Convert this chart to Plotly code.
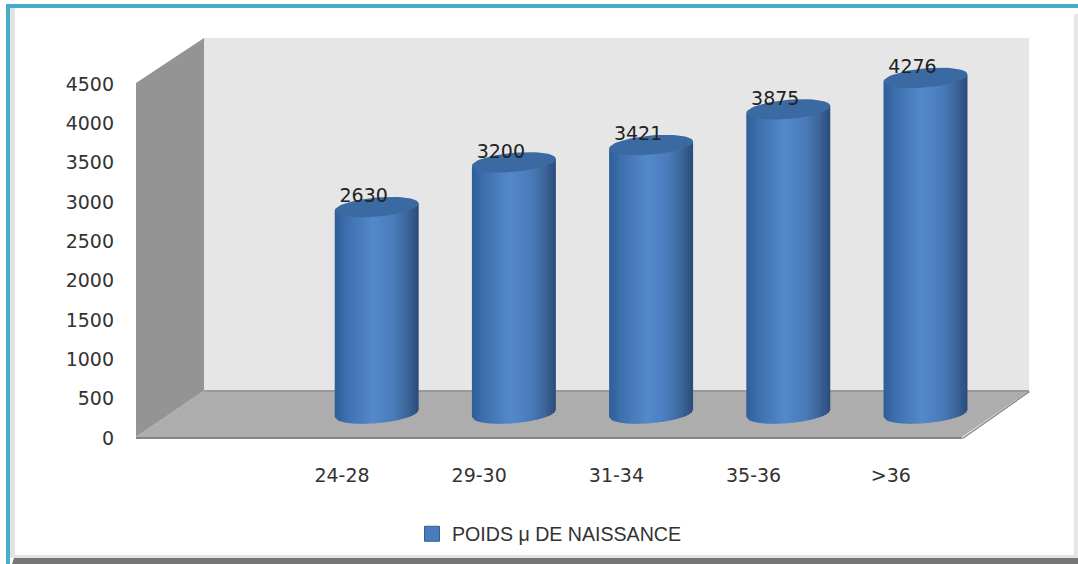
import numpy as np
import plotly.graph_objects as go

categories = ["24-28", "29-30", "31-34", "35-36", ">36"]
poids = [2630, 3200, 3421, 3875, 4276]
y_ticks = [0, 500, 1000, 1500, 2000, 2500, 3000, 3500, 4000, 4500]
series_name = "POIDS \u03bc DE NAISSANCE"

W, H = 1078, 564
px = lambda v: v / W
py = lambda v: 1 - v / H

# cylinder look
HALF_W = 0.306      # half a cylinder width, in category units
CAP_H = 122         # half cap height, in value units
TILT = 45           # cap tilt, in value units
STOPS = [(-1.0, (47, 95, 152)), (-0.72, (62, 112, 174)), (-0.1, (85, 137, 204)),
         (0.4, (74, 124, 188)), (0.75, (60, 100, 152)), (1.0, (42, 76, 122))]
BANDS = 34

def band_colour(u):
    us = [s[0] for s in STOPS]
    rgb = [np.interp(u, us, [s[1][k] for s in STOPS]) for k in range(3)]
    return "rgb(%d,%d,%d)" % tuple(int(c) for c in rgb)

fig = go.Figure()
edges = np.linspace(-1, 1, BANDS + 1)
for a, b in zip(edges[:-1], edges[1:]):
    xs, ys = [], []
    b2 = min(b + 0.03, 1.0)
    us = np.array([a, b2])
    for i, v in enumerate(poids):
        low = -CAP_H * np.sqrt(np.clip(1 - us ** 2, 0, 1)) + TILT * us
        top = v + TILT * us
        xs += [i + a * HALF_W, i + b2 * HALF_W, i + b2 * HALF_W, i + a * HALF_W, i + a * HALF_W, None]
        ys += [top[0], top[1], low[1], low[0], top[0], None]
    fig.add_trace(go.Scatter(x=xs, y=ys, xaxis="x2", yaxis="y2", mode="lines", line=dict(width=0),
                             fill="toself", fillcolor=band_colour((a + b) / 2),
                             hoverinfo="skip", showlegend=False))

t = np.linspace(0, 2 * np.pi, 61)
cx, cy = [], []
for i, v in enumerate(poids):
    cx += list(i + HALF_W * np.cos(t)) + [None]
    cy += list(v + TILT * np.cos(t) + CAP_H * np.sin(t)) + [None]
fig.add_trace(go.Scatter(x=cx, y=cy, xaxis="x2", yaxis="y2", mode="lines",
                         line=dict(width=0), fill="toself", fillcolor="#3b6aa3",
                         hoverinfo="skip", showlegend=False))

# data labels
fig.add_trace(go.Scatter(x=[i - 0.095 for i in range(len(poids))], y=poids, xaxis="x2", yaxis="y2",
                         mode="text", text=[str(v) for v in poids], textposition="top center",
                         textfont=dict(family="DejaVu Sans", size=19, color="#222222"),
                         hoverinfo="skip", showlegend=False))

# axes carrying the tick labels, and the legend entry
fig.add_trace(go.Scatter(x=list(range(len(categories))), y=[0] * len(categories), xaxis="x", yaxis="y",
                         mode="markers", marker=dict(size=1, opacity=0), hoverinfo="skip", showlegend=False))
fig.add_trace(go.Scatter(x=[None], y=[None], xaxis="x", yaxis="y", mode="markers", name=series_name,
                         marker=dict(symbol="square", size=15, color="#4a7cbc",
                                     line=dict(color="#2f5f96", width=1))))

def poly(points, fill, line=None, lw=0):
    path = "M " + " L ".join(f"{px(x):.5f} {py(y):.5f}" for x, y in points) + " Z"
    return dict(type="path", xref="paper", yref="paper", path=path, fillcolor=fill,
                line=dict(color=line or fill, width=lw), layer="below")

shapes = [
    # frame
    poly([(10, 8), (15, 8), (15, 558), (10, 558)], "#e2e2e2"),
    poly([(1074, 14), (1078, 14), (1078, 558), (1074, 558)], "#e6e6e6"),
    poly([(10, 555), (1078, 555), (1078, 558), (10, 558)], "#e4e4e4"),
    poly([(14, 558), (1078, 558), (1078, 564), (12, 564)], "#767676"),
    poly([(6, 4), (1078, 4), (1078, 8), (10, 8), (10, 564), (6, 564)], "#48adc6"),
    # 3-D box
    poly([(204, 38), (1029, 38), (1029, 391), (204, 391)], "#e6e6e6"),
    poly([(136, 83), (204, 38), (204, 391), (136, 437)], "#949494"),
    poly([(136, 437), (204, 391), (1029, 391), (962, 437)], "#adadad"),
    poly([(204, 390), (1029, 390), (1029, 392), (204, 392)], "#999999"),
    poly([(136, 437), (962, 437), (962, 439), (136, 439)], "#858585"),
    poly([(962, 438), (1029, 391), (1030, 392), (963, 439)], "#8a8a8a"),
]

fig.update_layout(
    width=W, height=H, margin=dict(l=0, r=0, t=0, b=0, autoexpand=False),
    paper_bgcolor="white", plot_bgcolor="rgba(0,0,0,0)", shapes=shapes,
    font=dict(family="DejaVu Sans", size=19, color="#333333"),
    xaxis=dict(domain=[px(273.4), px(959.4)], range=[-0.5, 4.5], tickmode="array",
               tickvals=list(range(len(categories))), ticktext=categories,
               showgrid=False, zeroline=False, showline=False,
               ticks="outside", ticklen=20, tickcolor="rgba(0,0,0,0)",
               anchor="y"),
    yaxis=dict(domain=[py(438), py(84)], range=[0, 4500], tickmode="array", tickvals=y_ticks,
               showgrid=False, zeroline=False, showline=False, ticks="",
               anchor="free", position=px(114)),
    xaxis2=dict(domain=[px(308.1), px(994.1)], range=[-0.5, 4.5], visible=False, anchor="y2"),
    yaxis2=dict(domain=[py(452.7), py(21.1)], range=[-500, 5000], visible=False, anchor="x2"),
    showlegend=True,
    legend=dict(x=px(412), y=py(534), xanchor="left", yanchor="middle", bgcolor="rgba(0,0,0,0)",
                font=dict(family="Liberation Sans", size=19.6, color="#333333"), itemwidth=30),
)

fig.write_html("out.html", config=dict(displayModeBar=False),
               post_script="document.body.style.margin='0';document.body.style.overflow='hidden';")
